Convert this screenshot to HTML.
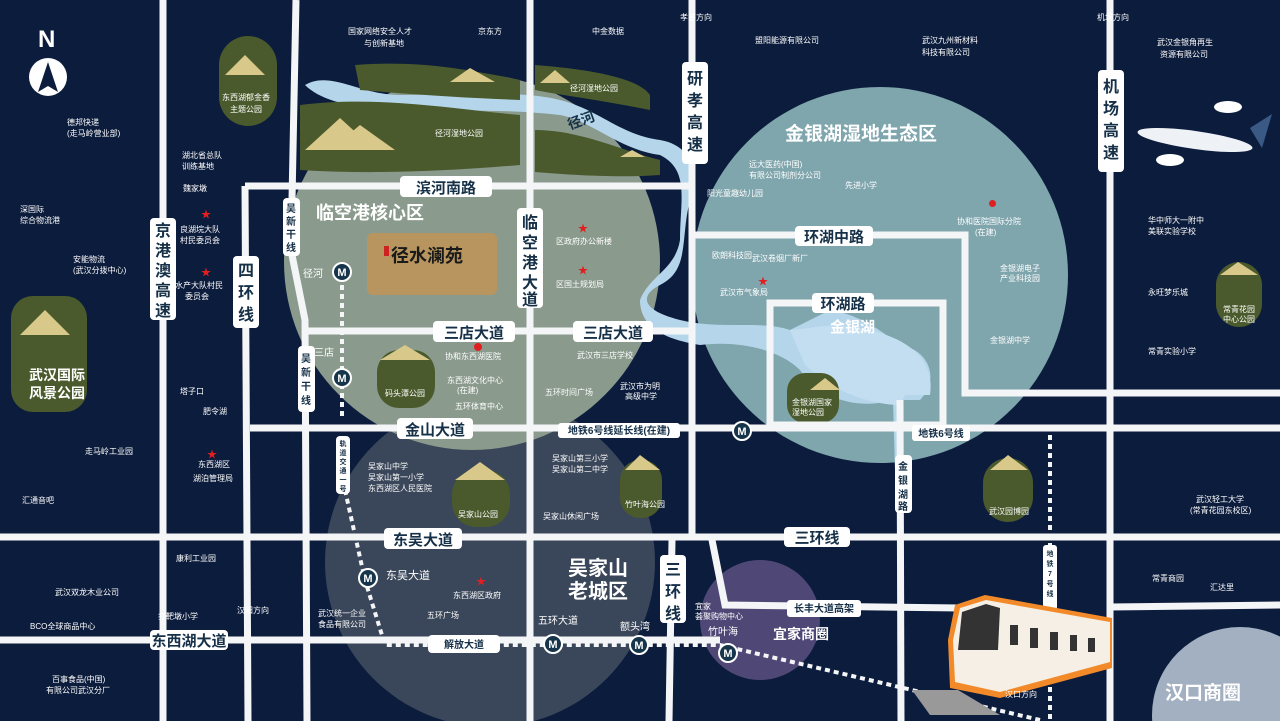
<!DOCTYPE html>
<html><head><meta charset="utf-8"><style>
html,body{margin:0;padding:0;background:#0c1c3c;width:1280px;height:721px;overflow:hidden;}
svg{display:block;font-family:"Liberation Sans","Noto Sans CJK SC",sans-serif;}
.rl{fill:#fff;}
.rt{fill:#163048;font-weight:bold;}
.w{fill:#fff;}
.s{fill:#fff;font-size:8px;}
</style></head><body>
<svg width="1280" height="721" viewBox="0 0 1280 721" xmlns="http://www.w3.org/2000/svg">
<rect width="1280" height="721" fill="#0c1c3c"/>
<circle cx="490" cy="562" r="165" fill="#3a4659"/>
<circle cx="472" cy="262" r="188" fill="#8a9a8d"/>
<circle cx="880" cy="275" r="188" fill="#7fa5ad"/>
<circle cx="760" cy="620" r="60" fill="#4f4876"/>
<circle cx="1240" cy="715" r="88" fill="#a3b0c2"/>
<path d="M305,85 C330,70 360,95 400,95 C460,95 520,90 560,100 C600,110 620,135 660,140 C690,145 700,170 690,200 C680,240 690,270 660,285 C640,295 640,310 680,320 C720,330 760,320 790,330 L830,310 C860,315 880,330 900,345 C930,350 940,380 920,400 L900,400 L900,470 L895,470 L893,400 C860,410 820,400 800,370 C780,350 740,340 700,345 C670,340 640,330 640,300 C650,275 675,270 680,240 C680,200 690,170 660,155 C620,150 590,120 560,115 C500,108 440,112 395,110 C350,108 320,100 305,85Z" fill="#b5d6ea"/>
<path d="M790,330 C810,330 830,320 870,330 C910,340 935,360 930,395 L905,395 L900,405 C870,405 830,390 805,365Z" fill="#c3def0"/>
<path d="M355,65 C420,60 470,70 520,80 L520,100 C470,98 420,95 360,90Z" fill="#4a5a2c"/>
<path d="M300,105 C380,95 460,110 520,115 L520,165 C460,170 380,175 300,170Z" fill="#4a5a2c"/>
<path d="M535,65 C600,70 640,80 650,95 L650,110 C600,100 560,95 535,90Z" fill="#4a5a2c"/>
<path d="M535,130 C580,130 620,150 660,160 L660,175 C620,178 570,175 535,172Z" fill="#4a5a2c"/>
<rect x="219" y="36" width="58" height="90" rx="29" fill="#4a5a2c"/>
<rect x="11" y="296" width="76" height="116" rx="22" fill="#4a5a2c"/>
<rect x="377" y="350" width="58" height="58" rx="22" fill="#4a5a2c"/>
<rect x="452" y="470" width="58" height="57" rx="24" fill="#4a5a2c"/>
<rect x="620" y="460" width="42" height="58" rx="20" fill="#4a5a2c"/>
<rect x="787" y="373" width="52" height="50" rx="18" fill="#4a5a2c"/>
<rect x="983" y="458" width="50" height="64" rx="25" fill="#4a5a2c"/>
<rect x="1216" y="262" width="46" height="65" rx="23" fill="#4a5a2c"/>
<g fill="#d8c88a">
<polygon points="305,150 340,118 375,150"/><polygon points="330,150 360,125 395,150"/>
<polygon points="225,75 245,55 265,75"/><polygon points="20,335 45,310 70,335"/>
<polygon points="450,82 470,68 495,82"/><polygon points="540,83 555,70 570,83"/>
<polygon points="380,360 405,345 430,360"/><polygon points="455,480 480,462 505,480"/>
<polygon points="625,470 640,455 660,470"/><polygon points="990,470 1008,455 1028,470"/>
<polygon points="1220,275 1238,262 1258,275"/><polygon points="810,390 825,378 840,390"/>
<polygon points="620,157 632,150 645,157"/>
</g>
<g stroke="#f4f5f7" stroke-width="7" fill="none">
<line x1="163" y1="0" x2="163" y2="721"/>
<line x1="245" y1="186" x2="248" y2="721"/>
<path d="M296,0 L291,250 L305,320 L307,721"/>
<line x1="245" y1="186" x2="692" y2="186"/>
<line x1="530" y1="0" x2="530" y2="721"/>
<line x1="692" y1="0" x2="692" y2="540"/>
<line x1="672" y1="540" x2="669" y2="721"/>
<line x1="305" y1="331" x2="692" y2="331"/>
<line x1="250" y1="428" x2="1280" y2="428"/>
<line x1="0" y1="537" x2="1280" y2="537"/>
<line x1="0" y1="640" x2="720" y2="640"/>
<path d="M712,540 L725,605 L960,608"/>
<line x1="1110" y1="0" x2="1110" y2="721"/>
<path d="M692,235 L965,235 L965,393 L1280,393"/>
<rect x="770" y="303" width="173" height="122"/>
<line x1="900" y1="400" x2="901" y2="721"/>
<line x1="1110" y1="607" x2="1280" y2="605"/>
</g>
<g stroke="#f4f5f7" stroke-width="4" stroke-dasharray="5,4" fill="none">
<line x1="342" y1="285" x2="342" y2="420"/>
<path d="M345,490 L365,580 L385,645 L720,645 L1040,720"/>
<line x1="1050" y1="435" x2="1050" y2="721"/>
</g>
<g fill="#16344a" stroke="#fff" stroke-width="2">
<circle cx="342" cy="272" r="9"/><circle cx="342" cy="378" r="9"/><circle cx="742" cy="431" r="9"/>
<circle cx="368" cy="578" r="9"/><circle cx="553" cy="644" r="9"/><circle cx="639" cy="645" r="9"/><circle cx="728" cy="653" r="9"/>
</g>
<g fill="#fff" font-size="11" font-weight="bold" text-anchor="middle">
<text x="342" y="276">M</text><text x="342" y="382">M</text><text x="742" y="435">M</text><text x="368" y="582">M</text><text x="553" y="648">M</text><text x="639" y="649">M</text><text x="728" y="657">M</text>
</g>
<g class="rl">
<rect x="400" y="176" width="92" height="21" rx="4"/>
<rect x="517" y="208" width="26" height="100" rx="4"/>
<rect x="682" y="62" width="26" height="102" rx="4"/>
<rect x="1098" y="70" width="26" height="102" rx="4"/>
<rect x="150" y="218" width="26" height="102" rx="4"/>
<rect x="233" y="256" width="26" height="72" rx="4"/>
<rect x="283" y="198" width="17" height="58" rx="4"/>
<rect x="298" y="346" width="17" height="66" rx="4"/>
<rect x="433" y="321" width="82" height="21" rx="4"/>
<rect x="573" y="321" width="80" height="21" rx="4"/>
<rect x="397" y="418" width="76" height="21" rx="4"/>
<rect x="558" y="423" width="122" height="15" rx="3"/>
<rect x="795" y="226" width="78" height="20" rx="4"/>
<rect x="812" y="293" width="62" height="20" rx="4"/>
<rect x="912" y="425" width="58" height="16" rx="3"/>
<rect x="895" y="455" width="17" height="58" rx="4"/>
<rect x="384" y="528" width="78" height="21" rx="4"/>
<rect x="784" y="527" width="66" height="20" rx="4"/>
<rect x="660" y="555" width="26" height="68" rx="4"/>
<rect x="150" y="630" width="78" height="20" rx="4"/>
<rect x="428" y="635" width="72" height="18" rx="4"/>
<rect x="787" y="600" width="74" height="17" rx="3"/>
<rect x="336" y="436" width="14" height="58" rx="4"/>
<rect x="1043" y="545" width="14" height="65" rx="3"/>
</g>
<g class="rt" font-size="15">
<text x="446" y="193" text-anchor="middle">滨河南路</text>
<text x="474" y="338" text-anchor="middle">三店大道</text>
<text x="613" y="338" text-anchor="middle">三店大道</text>
<text x="435" y="435" text-anchor="middle">金山大道</text>
<text x="834" y="242" text-anchor="middle">环湖中路</text>
<text x="843" y="309" text-anchor="middle">环湖路</text>
<text x="423" y="545" text-anchor="middle">东吴大道</text>
<text x="817" y="543" text-anchor="middle">三环线</text>
<text x="189" y="646" text-anchor="middle">东西湖大道</text>
</g>
<g class="rt" font-size="16" text-anchor="middle">
<text x="530" y="228">临</text><text x="530" y="248">空</text><text x="530" y="268">港</text><text x="530" y="288">大</text><text x="530" y="305">道</text>
<text x="695" y="84">研</text><text x="695" y="106">孝</text><text x="695" y="128">高</text><text x="695" y="150">速</text>
<text x="1111" y="92">机</text><text x="1111" y="114">场</text><text x="1111" y="136">高</text><text x="1111" y="158">速</text>
<text x="163" y="236">京</text><text x="163" y="256">港</text><text x="163" y="276">澳</text><text x="163" y="296">高</text><text x="163" y="316">速</text>
<text x="246" y="276">四</text><text x="246" y="298">环</text><text x="246" y="320">线</text>
<text x="673" y="575">三</text><text x="673" y="597">环</text><text x="673" y="619">线</text>
</g>
<g class="rt" font-size="10" text-anchor="middle">
<text x="291" y="212">吴</text><text x="291" y="225">新</text><text x="291" y="238">干</text><text x="291" y="251">线</text>
<text x="306" y="362">吴</text><text x="306" y="376">新</text><text x="306" y="390">干</text><text x="306" y="404">线</text>
<text x="903" y="470">金</text><text x="903" y="484">银</text><text x="903" y="498">湖</text><text x="903" y="510">路</text>
<text x="619" y="434">地铁6号线延长线(在建)</text>
<text x="941" y="437">地铁6号线</text>
<text x="824" y="612">长丰大道高架</text>
<text x="464" y="648">解放大道</text>
</g>
<g class="rt" font-size="7" text-anchor="middle">
<text x="343" y="446">轨</text><text x="343" y="455">道</text><text x="343" y="464">交</text><text x="343" y="473">通</text><text x="343" y="482">一</text><text x="343" y="491">号</text>
<text x="1050" y="556">地</text><text x="1050" y="566">铁</text><text x="1050" y="576">7</text><text x="1050" y="586">号</text><text x="1050" y="596">线</text>
</g>
<g class="w" font-weight="bold">
<text x="316" y="219" font-size="18">临空港核心区</text>
<text x="785" y="140" font-size="19">金银湖湿地生态区</text>
<text x="830" y="332" font-size="15">金银湖</text>
<text x="568" y="575" font-size="20">吴家山</text>
<text x="568" y="598" font-size="20">老城区</text>
<text x="773" y="639" font-size="14">宜家商圈</text>
<text x="1165" y="699" font-size="19">汉口商圈</text>
<text x="567" y="122" font-size="14" transform="rotate(-20 590 118)" style="fill:#163048">径河</text>
<text x="29" y="380" font-size="14">武汉国际</text>
<text x="29" y="398" font-size="14">风景公园</text>
</g>
<rect x="367" y="233" width="130" height="62" rx="6" fill="#b8955e"/>
<text x="391" y="262" font-size="18" font-weight="bold" fill="#1a1a1a">径水澜苑</text>
<rect x="384" y="246" width="5" height="10" fill="#c22"/>
<text x="38" y="47" class="w" font-size="24" font-weight="bold">N</text>
<circle cx="48" cy="77" r="19" fill="#fff"/>
<polygon points="48,62 38,92 48,86 58,92" fill="#0c1c3c"/>
<g>
<ellipse cx="1195" cy="140" rx="58" ry="9" fill="#eef2f7" transform="rotate(8 1195 140)"/>
<polygon points="1250,128 1272,114 1262,148" fill="#3a5a85"/>
<ellipse cx="1228" cy="107" rx="14" ry="6" fill="#fff"/><ellipse cx="1170" cy="160" rx="14" ry="6" fill="#fff"/>
</g>
<!-- train -->
<polygon points="912,690 958,690 1000,715 930,715" fill="#999"/>
<polygon points="955,605 985,595 1112,618 1112,668 1000,698 950,688 948,640" fill="#f28a2a"/>
<polygon points="960,608 986,600 1110,622 1110,662 1000,692 955,682 953,640" fill="#f5efe6"/>
<polygon points="962,612 986,604 1000,608 998,650 958,650" fill="#333"/>
<g fill="#333"><rect x="1010" y="625" width="8" height="20"/><rect x="1030" y="628" width="8" height="20"/><rect x="1050" y="632" width="8" height="18"/><rect x="1070" y="635" width="7" height="16"/><rect x="1088" y="638" width="7" height="14"/></g>
<g class="s">
<text x="348" y="34">国家网络安全人才</text><text x="364" y="46">与创新基地</text>
<text x="478" y="34">京东方</text><text x="592" y="34">中金数据</text>
<text x="755" y="43">盟阳能源有限公司</text><text x="922" y="43">武汉九州新材料</text><text x="922" y="55">科技有限公司</text>
<text x="1157" y="45">武汉金银角再生</text><text x="1160" y="57">资源有限公司</text>
<text x="67" y="125">德邦快递</text><text x="67" y="136">(走马岭营业部)</text>
<text x="182" y="158">湖北省总队</text><text x="182" y="169">训练基地</text><text x="183" y="191">魏家墩</text>
<text x="20" y="212">深国际</text><text x="20" y="223">综合物流港</text>
<text x="73" y="262">安能物流</text><text x="73" y="273">(武汉分拨中心)</text>
<text x="180" y="232">良湖垸大队</text><text x="180" y="243">村民委员会</text>
<text x="175" y="288">水产大队村民</text><text x="185" y="299">委员会</text>
<text x="222" y="100">东西湖郁金香</text><text x="230" y="112">主题公园</text>
<text x="435" y="136">径河湿地公园</text><text x="570" y="91">径河湿地公园</text>
<text x="556" y="244">区政府办公新楼</text><text x="556" y="287">区国土规划局</text>
<text x="445" y="359">协和东西湖医院</text><text x="447" y="383">东西湖文化中心</text><text x="457" y="393">(在建)</text>
<text x="455" y="409">五环体育中心</text><text x="577" y="358">武汉市三店学校</text>
<text x="545" y="395">五环时间广场</text><text x="620" y="389">武汉市为明</text><text x="625" y="399">高级中学</text>
<text x="385" y="396">码头潭公园</text>
<text x="180" y="394">塔子口</text><text x="203" y="414">肥令湖</text>
<text x="85" y="454">走马岭工业园</text><text x="198" y="467">东西湖区</text><text x="193" y="481">湖泊管理局</text>
<text x="22" y="503">汇通音吧</text>
<text x="368" y="469">吴家山中学</text><text x="368" y="480">吴家山第一小学</text><text x="368" y="491">东西湖区人民医院</text>
<text x="458" y="517">吴家山公园</text>
<text x="552" y="461">吴家山第三小学</text><text x="552" y="472">吴家山第二中学</text>
<text x="543" y="519">吴家山休闲广场</text><text x="625" y="507">竹叶海公园</text>
<text x="176" y="561">康利工业园</text><text x="55" y="595">武汉双龙木业公司</text>
<text x="158" y="619">打靶墩小学</text><text x="30" y="629">BCO全球商品中心</text>
<text x="52" y="682">百事食品(中国)</text><text x="46" y="693">有限公司武汉分厂</text>
<text x="386" y="579" font-size="11">东吴大道</text><text x="453" y="598">东西湖区政府</text>
<text x="318" y="616">武汉统一企业</text><text x="318" y="627">食品有限公司</text><text x="427" y="618">五环广场</text>
<text x="538" y="624" font-size="10">五环大道</text><text x="620" y="630" font-size="10">额头湾</text>
<text x="695" y="609">宜家</text><text x="695" y="619">荟聚购物中心</text><text x="708" y="635" font-size="10">竹叶海</text>
<text x="749" y="167">远大医药(中国)</text><text x="749" y="178">有限公司制剂分公司</text>
<text x="707" y="196">阳光童趣幼儿园</text><text x="845" y="188">先进小学</text>
<text x="957" y="224">协和医院国际分院</text><text x="975" y="235">(在建)</text>
<text x="712" y="258">欧朗科技园</text><text x="752" y="261">武汉卷烟厂新厂</text><text x="720" y="295">武汉市气象局</text>
<text x="1000" y="271">金银湖电子</text><text x="1000" y="281">产业科技园</text><text x="990" y="343">金银湖中学</text>
<text x="1148" y="223">华中师大一附中</text><text x="1148" y="234">美联实验学校</text>
<text x="1148" y="295">永旺梦乐城</text><text x="1148" y="354">常青实验小学</text>
<text x="1223" y="312">常青花园</text><text x="1223" y="322">中心公园</text>
<text x="792" y="405">金银湖国家</text><text x="792" y="415">湿地公园</text>
<text x="989" y="514">武汉园博园</text>
<text x="1196" y="502">武汉轻工大学</text><text x="1190" y="513">(常青花园东校区)</text>
<text x="1152" y="581">常青商园</text><text x="1210" y="590">汇达里</text>
<text x="1005" y="697">汉口方向</text>
<text x="314" y="356" font-size="10">三店</text><text x="303" y="277" font-size="10">径河</text>
<text x="237" y="613">汉阳方向</text>
<text x="680" y="20">孝感方向</text><text x="1097" y="20">机场方向</text>
</g>
<g fill="#e02020" font-size="10">
<text x="201" y="218">★</text><text x="201" y="276">★</text><text x="578" y="232">★</text><text x="578" y="274">★</text>
<text x="207" y="458">★</text><text x="476" y="585">★</text><text x="758" y="285">★</text>
</g>
<rect x="989" y="200" width="7" height="7" rx="3.5" fill="#e02020"/>
<rect x="474" y="343" width="8" height="8" rx="4" fill="#e02020"/>
</svg>
</body></html>
